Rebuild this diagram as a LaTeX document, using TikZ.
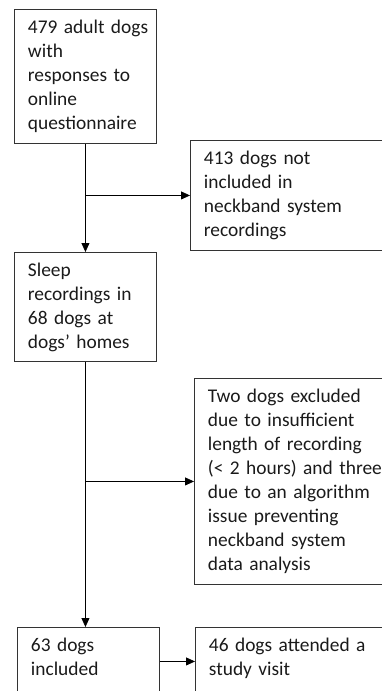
\documentclass[tikz,border=0pt]{standalone}
\usepackage{fontspec}
\setmainfont{Carlito}
\usetikzlibrary{arrows.meta,positioning,calc}
\definecolor{boxline}{HTML}{333333}
\definecolor{flowtext}{HTML}{1a1a1a}

\begin{document}
\begin{tikzpicture}[
    flowbox/.style n args={2}{draw=boxline, line width=0.9pt, anchor=north west,
                  align=left, inner xsep=0pt, inner ysep=0pt, text width=#1,
                  text height=24.5pt, text depth=#2, text=flowtext,
                  font=\fontsize{19.4}{24}\selectfont,
                  execute at begin node={\leftskip=13.5pt}},
    flow/.style={line width=0.8pt, -{Triangle[length=9pt,width=8pt]}},
    >=Stealth
]
\useasboundingbox (0,0) rectangle (382pt,-691pt);
\clip (0,0) rectangle (382pt,-691pt);

\node[flowbox={142pt}{109.5pt}] (quest) at (14pt,-9pt)
    {479 adult dogs\\with\\responses to\\online\\questionnaire};
\node[flowbox={191.5pt}{85.5pt}] (notrec) at (190pt,-140pt)
    {413 dogs not\\included in\\neckband system\\recordings};
\node[flowbox={142pt}{84.5pt}] (sleep) at (14pt,-252pt)
    {Sleep\\recordings in\\68 dogs at\\dogs’ homes};
\node[flowbox={187.5pt}{181.5pt}] (excl) at (194pt,-378pt)
    {Two dogs excluded\\due to insufficient\\length of recording\\(< 2 hours) and three\\due to an algorithm\\issue preventing\\neckband system\\data analysis};
\node[flowbox={142pt}{43.5pt}] (incl) at (17pt,-627pt)
    {63 dogs\\included};
\node[flowbox={200pt}{43.5pt}] (visit) at (195pt,-627pt)
    {46 dogs attended a\\study visit};

% main trunk with side branches
\coordinate (split1) at (quest.south |- notrec.west);
\coordinate (split2) at (sleep.south |- excl.west);
\draw[flow] (quest.south) -- (sleep.north);
\draw[flow] (split1) -- (notrec.west);
\draw[flow] (sleep.south) -- (sleep.south |- incl.north);
\draw[flow] (split2) -- (excl.west);
\draw[flow] (incl.east) -- (visit.west);
\end{tikzpicture}
\end{document}
